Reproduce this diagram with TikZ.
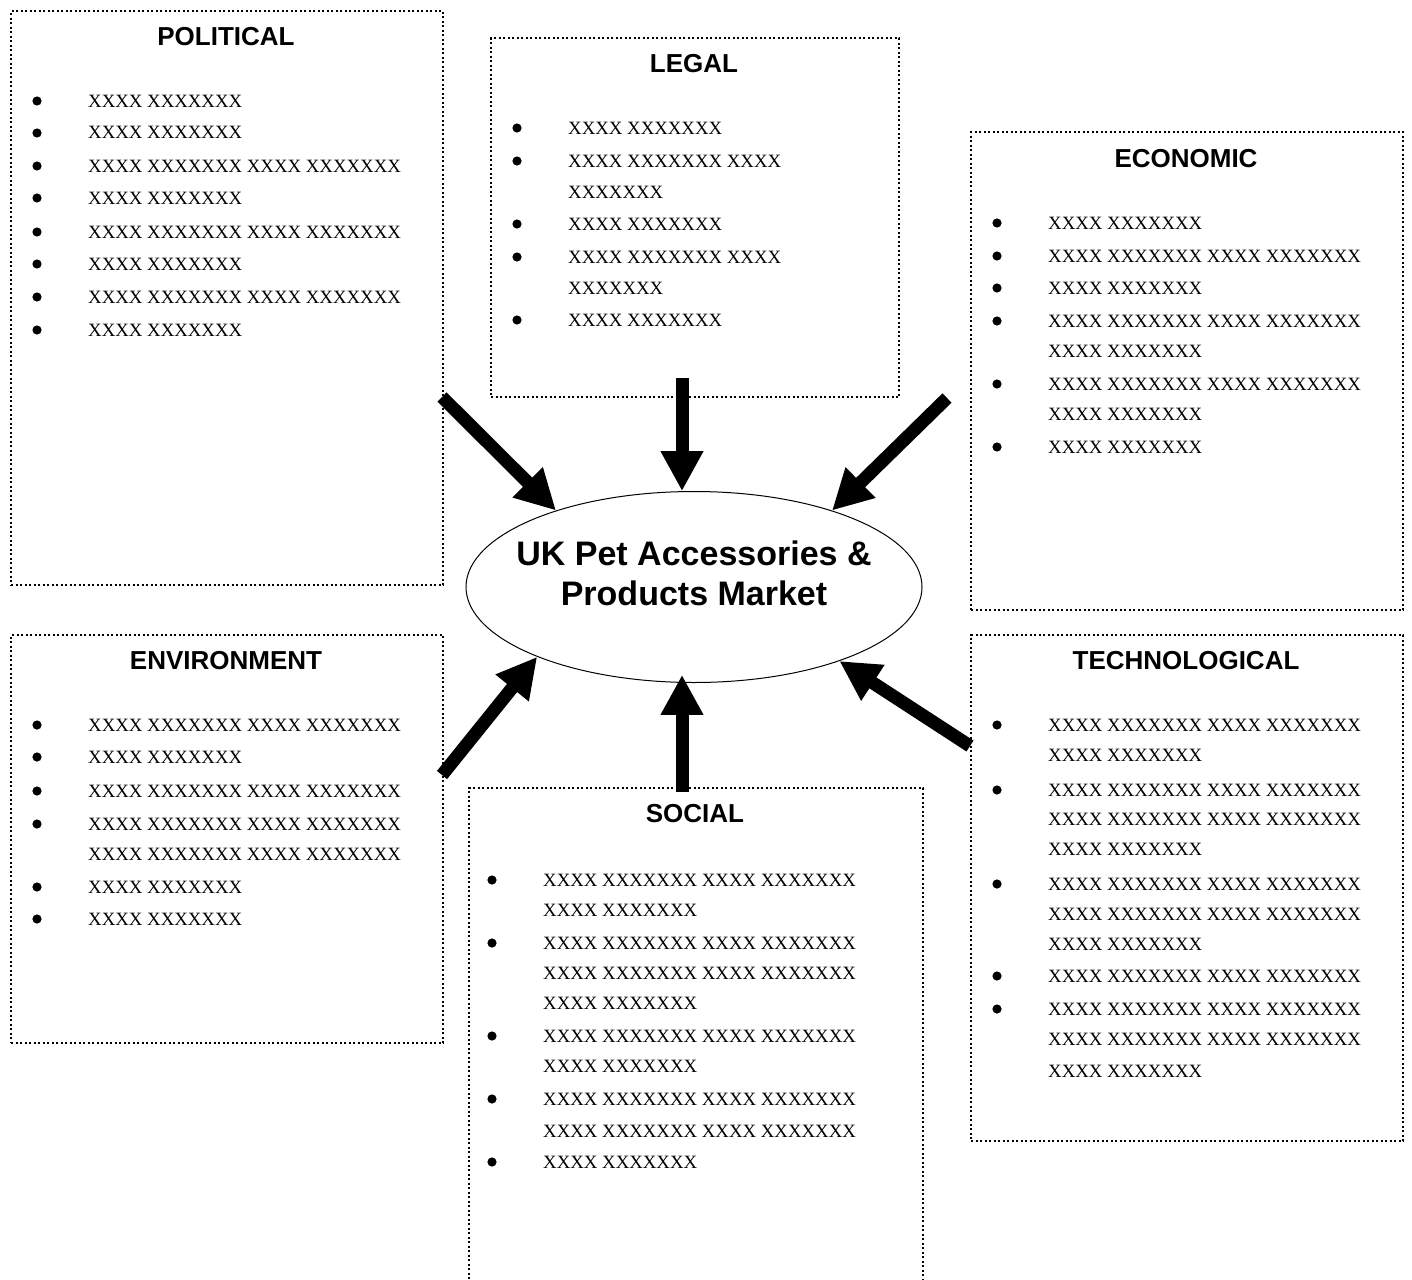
\documentclass[tikz,border=0pt]{standalone}
\usepackage{fontspec}
\setmainfont{Liberation Serif}
\newfontfamily\arialfont{Liberation Sans}
\usetikzlibrary{shapes.geometric,arrows.meta,calc}
\tikzset{
  pestbox/.style={draw, line width=2.4pt, dash pattern=on 2.2pt off 2.3pt, rectangle, inner sep=0pt, anchor=north west},
  boxtitle/.style={font=\arialfont\bfseries\fontsize{26}{30}\selectfont, anchor=base, inner sep=0pt},
  itemtxt/.style={font=\fontsize{18.8}{30}\selectfont, anchor=base west, inner sep=0pt},
  bigarrow/.style={line width=13pt, -{Triangle[width=40pt,length=40pt]}},
  mkttxt/.style={font=\arialfont\bfseries\fontsize{34}{40}\selectfont, anchor=base, inner sep=0pt}
}
\newcommand\XA{XXXX XXXXXXX}
\newcommand\XB{XXXX XXXXXXX XXXX XXXXXXX}
% bullet item: name, text x, baseline y, text
\newcommand\bitem[4]{\fill ($(#2,#3)+(-51,-6)$) circle (4.6pt); \node[itemtxt] (#1) at (#2,#3) {#4};}
% continuation line
\newcommand\citem[4]{\node[itemtxt] (#1) at (#2,#3) {#4};}
\begin{document}
\begin{tikzpicture}[x=1pt,y=-1pt]
\useasboundingbox (0,0) rectangle (1412,1279);
\clip (0,0) rectangle (1412,1279);
\fill[white] (0,0) rectangle (1412,1279);

% boxes
\node[pestbox, minimum width=432pt, minimum height=574pt] (polbox) at (10,10) {};
\node[pestbox, minimum width=408pt, minimum height=359pt] (legbox) at (490,37) {};
\node[pestbox, minimum width=432pt, minimum height=478pt] (ecobox) at (970,131) {};
\node[pestbox, minimum width=432pt, minimum height=408pt] (envbox) at (10,634) {};
\node[pestbox, minimum width=432pt, minimum height=506pt] (tecbox) at (970,634) {};
\node[pestbox, minimum width=454pt, minimum height=520pt] (socbox) at (468,787) {};

% titles
\node[boxtitle] (polt) at (226,45.5) {POLITICAL};
\node[boxtitle] (legt) at (694,72.5) {LEGAL};
\node[boxtitle] (ecot) at (1186,167.5) {ECONOMIC};
\node[boxtitle] (envt) at (226,669.5) {ENVIRONMENT};
\node[boxtitle] (tect) at (1186,669.5) {TECHNOLOGICAL};
\node[boxtitle] (soct) at (695,822.5) {SOCIAL};

% political items
\bitem{p1}{88}{107}{\XA}
\bitem{p2}{88}{139}{\XA}
\bitem{p3}{88}{172}{\XB}
\bitem{p4}{88}{204}{\XA}
\bitem{p5}{88}{238}{\XB}
\bitem{p6}{88}{270}{\XA}
\bitem{p7}{88}{303}{\XB}
\bitem{p8}{88}{336}{\XA}

% legal items
\bitem{l1}{568}{134}{\XA}
\bitem{l2}{568}{167}{XXXX XXXXXXX XXXX}
\citem{l2b}{568}{198}{XXXXXXX}
\bitem{l3}{568}{230}{\XA}
\bitem{l4}{568}{263}{XXXX XXXXXXX XXXX}
\citem{l4b}{568}{294}{XXXXXXX}
\bitem{l5}{568}{326}{\XA}

% economic items
\bitem{e1}{1048}{229}{\XA}
\bitem{e2}{1048}{262}{\XB}
\bitem{e3}{1048}{294}{\XA}
\bitem{e4}{1048}{327}{\XB}
\citem{e4b}{1048}{357}{\XA}
\bitem{e5}{1048}{390}{\XB}
\citem{e5b}{1048}{420}{\XA}
\bitem{e6}{1048}{453}{\XA}

% environment items
\bitem{v1}{88}{731}{\XB}
\bitem{v2}{88}{763}{\XA}
\bitem{v3}{88}{797}{\XB}
\bitem{v4}{88}{830}{\XB}
\citem{v4b}{88}{860}{\XB}
\bitem{v5}{88}{893}{\XA}
\bitem{v6}{88}{925}{\XA}

% technological items
\bitem{t1}{1048}{731}{\XB}
\citem{t1b}{1048}{761}{\XA}
\bitem{t2}{1048}{796}{\XB}
\citem{t2b}{1048}{825}{\XB}
\citem{t2c}{1048}{855}{\XA}
\bitem{t3}{1048}{890}{\XB}
\citem{t3b}{1048}{920}{\XB}
\citem{t3c}{1048}{950}{\XA}
\bitem{t4}{1048}{982}{\XB}
\bitem{t5}{1048}{1015}{\XB}
\citem{t5b}{1048}{1045}{\XB}
\citem{t5c}{1048}{1077}{\XA}

% social items
\bitem{s1}{543}{886}{\XB}
\citem{s1b}{543}{916}{\XA}
\bitem{s2}{543}{949}{\XB}
\citem{s2b}{543}{979}{\XB}
\citem{s2c}{543}{1009}{\XA}
\bitem{s3}{543}{1042}{\XB}
\citem{s3b}{543}{1072}{\XA}
\bitem{s4}{543}{1105}{\XB}
\citem{s4b}{543}{1137}{\XB}
\bitem{s5}{543}{1168}{\XA}

% central ellipse
\node[ellipse, draw, line width=1pt, fill=white, minimum width=456pt, minimum height=191pt, inner sep=0pt] (ell) at (694,587) {};
\node[mkttxt] (mkt1) at (694,565) {UK Pet Accessories \&};
\node[mkttxt] (mkt2) at (694,605) {Products Market};

% arrow tails
\coordinate (polfrom) at (442,397);
\coordinate (legfrom) at (682,378);
\coordinate (ecofrom) at (947,398);
\coordinate (envfrom) at (442,775);
\coordinate (socfrom) at (682,792);
\coordinate (tecfrom) at (970,746);

% arrows
\draw[bigarrow] (polfrom) -- (ell.151.6);
\draw[bigarrow] (legfrom) -- (legfrom |- ell.97);
\draw[bigarrow] (ecofrom) -- (ell.29.1);
\draw[bigarrow] (envfrom) -- (ell.204.5);
\draw[bigarrow] (socfrom) -- ($(socfrom |- ell.263)+(0,-8)$);
\draw[bigarrow] (tecfrom) -- (ell.333.9);
\end{tikzpicture}
\end{document}
